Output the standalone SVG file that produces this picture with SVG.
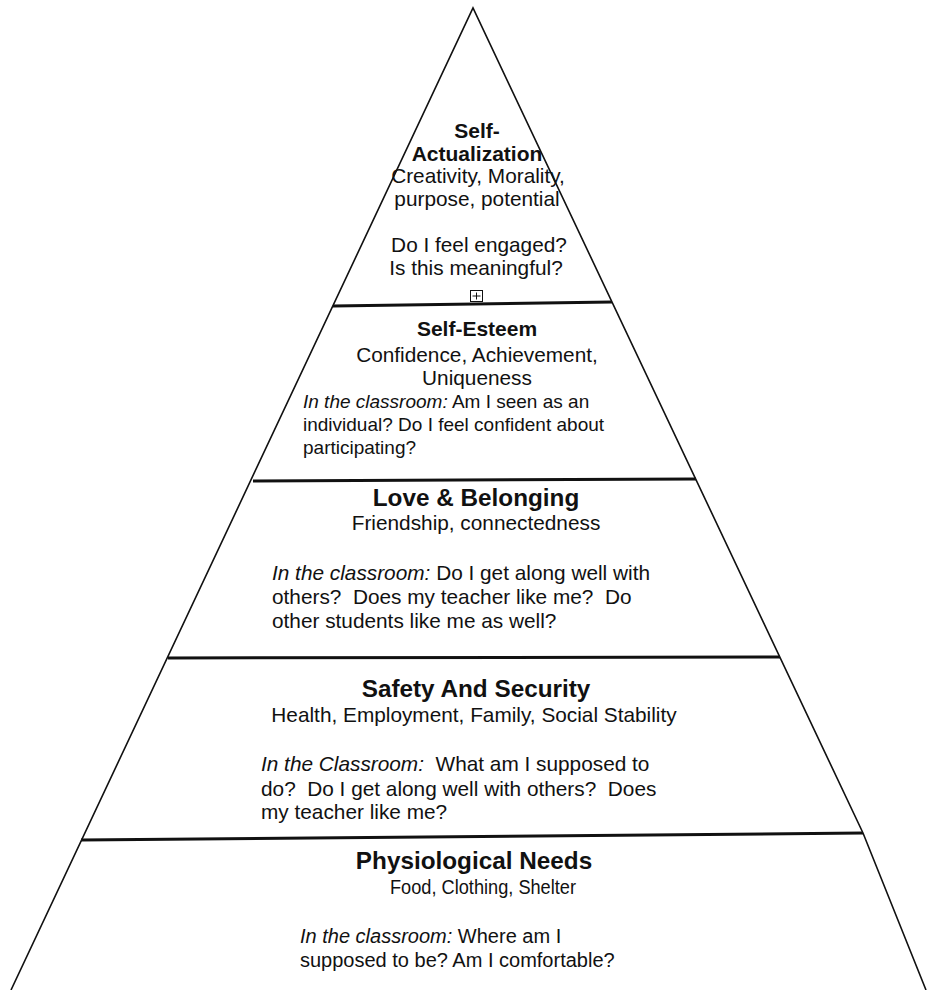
<svg xmlns="http://www.w3.org/2000/svg" width="927" height="990" viewBox="0 0 927 990">
<style>
text{font-family:"Liberation Sans",Arial,Helvetica,sans-serif;fill:#111;white-space:pre}
.c{text-anchor:middle}
.h1{font-weight:bold;font-size:21px}
.h2{font-weight:bold;font-size:24.3px}
.b{font-size:20.8px}
.s{font-size:19px}
.i{font-style:italic}
.edge{fill:none;stroke:#111;stroke-width:1.6}
.div{fill:none;stroke:#111;stroke-width:3}
</style>
<rect width="927" height="990" fill="#fff"/>
<g id="connectors">
<polyline class="edge" points="11,990 473,8 863,833 926,990"/>
<line class="div" x1="333" y1="306" x2="612" y2="302"/>
<line class="div" x1="253" y1="481" x2="696" y2="479"/>
<line class="div" x1="168" y1="658" x2="780" y2="657"/>
<line class="div" x1="81" y1="840" x2="863" y2="833"/>
</g>
<g id="self-actualization">
<text class="c h1" x="477" y="138">Self-</text>
<text class="c h1" x="477" y="161">Actualization</text>
<text class="c b" x="478" y="183" font-size="20">Creativity, Morality,</text>
<text class="c b" x="477" y="206">purpose, potential</text>
<text class="c b" x="479" y="252">Do I feel engaged?</text>
<text class="c b" x="476" y="275">Is this meaningful?</text>
<g id="expand-icon">
<rect x="470.5" y="290.5" width="12" height="11" fill="#fff" stroke="#111" stroke-width="1"/>
<path d="M476.5 292.5v7M472.5 296h8" stroke="#111" stroke-width="1"/>
</g>
</g>
<g id="self-esteem">
<text class="c h1" x="477" y="336">Self-Esteem</text>
<text class="c b" x="477" y="362">Confidence, Achievement,</text>
<text class="c b" x="477" y="385">Uniqueness</text>
<text class="s" x="303" y="408"><tspan class="i">In the classroom:</tspan> Am I seen as an</text>
<text class="s" x="303" y="431">individual? Do I feel confident about</text>
<text class="s" x="303" y="454">participating?</text>
</g>
<g id="love-belonging">
<text class="c h2" x="476" y="506">Love &amp; Belonging</text>
<text class="c b" x="476" y="530">Friendship, connectedness</text>
<text class="b" x="272" y="580"><tspan class="i">In the classroom:</tspan> Do I get along well with</text>
<text class="b" x="272" y="604">others?  Does my teacher like me?  Do</text>
<text class="b" x="272" y="628">other students like me as well?</text>
</g>
<g id="safety-security">
<text class="c h2" x="476" y="697">Safety And Security</text>
<text class="c b" x="474" y="722">Health, Employment, Family, Social Stability</text>
<text class="b" x="261" y="771"><tspan class="i">In the Classroom:</tspan>  What am I supposed to</text>
<text class="b" x="261" y="796">do?  Do I get along well with others?  Does</text>
<text class="b" x="261" y="819">my teacher like me?</text>
</g>
<g id="physiological">
<text class="c h2" x="474" y="869">Physiological Needs</text>
<text class="c" x="483" y="894" font-size="20" textLength="186" lengthAdjust="spacingAndGlyphs">Food, Clothing, Shelter</text>
<text x="300" y="943" font-size="20"><tspan class="i">In the classroom:</tspan> Where am I</text>
<text x="300" y="967" font-size="20">supposed to be? Am I comfortable?</text>
</g>
</svg>
